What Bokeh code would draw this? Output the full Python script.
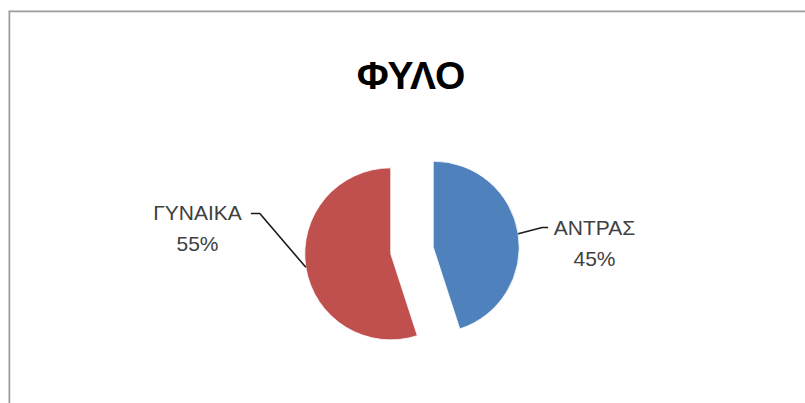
import math
from bokeh.plotting import figure
from bokeh.models import ColumnDataSource, Range1d, Span
from bokeh.core.properties import value
from bokeh.embed import file_html
from bokeh.resources import INLINE

# ---- data ----
title_text = "ΦΥΛΟ"
categories = ["ΑΝΤΡΑΣ", "ΓΥΝΑΙΚΑ"]
values = [45, 55]
colors = ["#4F81BD", "#C0504D"]

# ---- layout (screen-like data units: 1 unit = 1 px, y up) ----
W, H = 805, 403
LEFT, TOP = 8, 10
cx, cy = 411.5, H - 250
R = 86
EXPLODE = 21.5
FONT = "Liberation Sans"
TXT = "#404040"

p = figure(width=W, height=H, output_backend="svg", toolbar_location=None,
           x_range=Range1d(LEFT, W), y_range=Range1d(0, H - TOP),
           min_border_left=LEFT, min_border_top=TOP, min_border_right=0,
           min_border_bottom=0)
p.axis.visible = False
p.grid.visible = False
p.outline_line_color = None
p.background_fill_color = "white"
p.border_fill_color = "white"

# frame (left and top edges of the chart area)
p.add_layout(Span(location=LEFT + 0.5, dimension="height", line_color="#9c9c9c", line_width=2.5))
p.add_layout(Span(location=H - TOP - 0.5, dimension="width", line_color="#9c9c9c", line_width=2.5))

# ---- wedges ----
total = float(sum(values))
starts, ends, xs, ys, mids = [], [], [], [], []
cum = 0.0
for v in values:
    end = math.radians(90 - cum / total * 360)
    start = math.radians(90 - (cum + v) / total * 360)
    mid = (start + end) / 2
    starts.append(start)
    ends.append(end)
    mids.append(mid)
    xs.append(cx + EXPLODE * math.cos(mid))
    ys.append(cy + EXPLODE * math.sin(mid))
    cum += v

src = ColumnDataSource(dict(x=xs, y=ys, start=starts, end=ends, color=colors, cat=categories))
p.wedge(x="x", y="y", radius=R, start_angle="start", end_angle="end",
        fill_color="color", line_color="white", line_width=0.8, source=src)

# ---- title ----
p.text(x=[cx - 1], y=[H - 75], text=[title_text], text_font=value(FONT),
       text_font_size="39px", text_font_style="bold", text_color="black",
       text_align="center", text_baseline="alphabetic")

# ---- labels with leader lines ----
# label centre x, name baseline (screen y), elbow offsets
label_specs = [
    dict(lx=594, by=227, elbow_dx=24, tail=6),    # right label
    dict(lx=197, by=212, elbow_dx=-46, tail=-9),  # left label
]
for i, (cat, v) in enumerate(zip(categories, values)):
    spec = label_specs[i]
    ex = xs[i] + R * math.cos(mids[i])
    ey = ys[i] + R * math.sin(mids[i])
    line_y = H - (spec["by"] - 0.5) + 0  # leader level near text middle
    line_y = H - (spec["by"] - 0.5)
    if i == 0:
        line_y = H - 227
    else:
        line_y = H - 213
    kx = ex + spec["elbow_dx"]
    p.line([ex, kx, kx + spec["tail"]], [ey, line_y, line_y], line_color="#1a1a1a", line_width=1.6)
    p.text(x=[spec["lx"]], y=[H - spec["by"]], text=[cat], text_font=value(FONT),
           text_font_size="21px", text_color=TXT, text_align="center", text_baseline="alphabetic")
    p.text(x=[spec["lx"]], y=[H - spec["by"] - 31], text=[f"{v}%"], text_font=value(FONT),
           text_font_size="21px", text_color=TXT, text_align="center", text_baseline="alphabetic")

open("out.html", "w").write(file_html(p, INLINE))
